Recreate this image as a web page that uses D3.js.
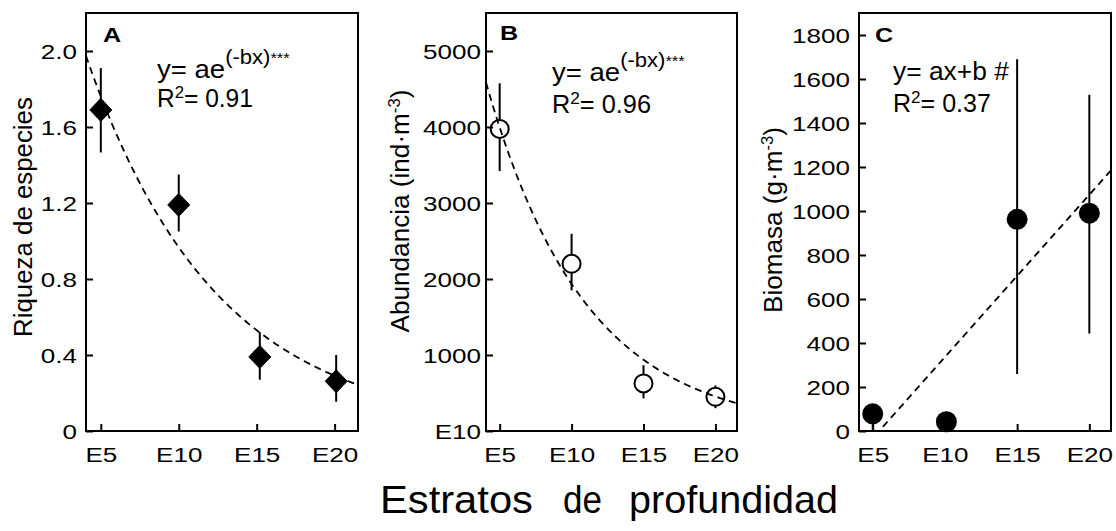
<!DOCTYPE html>
<html><head><meta charset="utf-8">
<script src="https://cdn.jsdelivr.net/npm/d3@7"></script>
<style>
body{margin:0;background:#fff}
svg{display:block}
text{font-family:"Liberation Sans",Arial,sans-serif;fill:#000}
</style>
</head><body>
<svg id="chart" width="1116" height="531"></svg>
<script>
// ---------- DATA ----------
const strata = ["E5", "E10", "E15", "E20"];
const strataDepth = [5, 10, 15, 20];

// Panel A: species richness
const richDepth = [5, 10, 15.2, 20.1];
const richness  = [1.69, 1.19, 0.39, 0.262];
const richLow   = [1.466, 1.05, 0.27, 0.154];
const richHigh  = [1.91, 1.35, 0.52, 0.40];
const richTicks = [0, 0.4, 0.8, 1.2, 1.6, 2.0];
const richTickLabels = ["0", "0.4", "0.8", "1.2", "1.6", "2.0"];
const richFitA = 3.21, richFitB = 0.12;

// Panel B: abundance
const abunDepth = [5, 10, 15, 20];
const abundance = [3975, 2200, 626, 450];
const abunLow   = [3420, 1850, 429, 300];
const abunHigh  = [4575, 2595, 866, 600];
const abunTicks = [0, 1000, 2000, 3000, 4000, 5000];
const abunTickLabels = ["E10", "1000", "2000", "3000", "4000", "5000"];
const abunFitA = 8250, abunFitB = 0.145;

// Panel C: biomass
const bioDepth = [5, 10.1, 15, 20];
const biomass  = [78, 42, 962, 990];
const bioLow   = [5, 42, 259, 443];
const bioHigh  = [78, 42, 1690, 1528];
const bioTicks = [0, 200, 400, 600, 800, 1000, 1200, 1400, 1600, 1800];
const bioTickLabels = ["0", "200", "400", "600", "800", "1000", "1200", "1400", "1600", "1800"];
const bioSlope = 73.8, bioIntercept = -402;

// common axis title
const titleWords = ["Estratos", "de", "profundidad"];

// ---------- DRAW ----------
const svg = d3.select("#chart");
const xDomain = [4.05, 21.5];
const TS = 1.27; // horizontal stretch of text

function stext(parent, x, y, opts, build) {
  const g = parent.append("g");
  const t = g.append("text")
    .attr("text-anchor", opts.anchor || "start")
    .style("font-size", opts.size + "px");
  if (opts.weight) t.style("font-weight", opts.weight);
  build(t);
  let s = opts.sx || 1;
  if (opts.width) { s = opts.width / t.node().getBBox().width; }
  g.attr("transform", `translate(${x},${y}) rotate(${opts.rot || 0}) scale(${s},1)`);
  return g;
}

function panel(cfg) {
  const g = svg.append("g");
  const x = d3.scaleLinear().domain(xDomain).range([cfg.left, cfg.right]);
  const y = d3.scaleLinear().domain(cfg.yDomain).range([cfg.bottom, cfg.top]);
  const clipId = "clip" + cfg.id;
  svg.append("clipPath").attr("id", clipId).append("rect")
    .attr("x", cfg.left).attr("y", cfg.top)
    .attr("width", cfg.right - cfg.left).attr("height", cfg.bottom - cfg.top);

  // error bars
  g.append("g").selectAll("line").data(cfg.depth).join("line")
    .attr("x1", d => x(d)).attr("x2", d => x(d))
    .attr("y1", (d, i) => y(cfg.low[i])).attr("y2", (d, i) => y(cfg.high[i]))
    .attr("stroke", "#000").attr("stroke-width", 2);

  // markers
  const m = g.append("g");
  if (cfg.marker === "diamond") {
    m.selectAll("path").data(cfg.depth).join("path")
      .attr("d", (d, i) => {
        const cx = x(d), cy = y(cfg.values[i]);
        return `M${cx},${cy - 11.5}L${cx + 11},${cy}L${cx},${cy + 11.5}L${cx - 11},${cy}Z`;
      })
      .attr("fill", "#000").attr("stroke", "#000").attr("stroke-width", 1).attr("stroke-linejoin", "round");
  } else if (cfg.marker === "open") {
    m.selectAll("circle").data(cfg.depth).join("circle")
      .attr("cx", d => x(d)).attr("cy", (d, i) => y(cfg.values[i]))
      .attr("r", 9).attr("fill", "#fff").attr("stroke", "#000").attr("stroke-width", 2);
  } else {
    m.selectAll("circle").data(cfg.depth).join("circle")
      .attr("cx", d => x(d)).attr("cy", (d, i) => y(cfg.values[i]))
      .attr("r", 10.5).attr("fill", "#000");
  }

  // fitted curve
  const xs = d3.range(0, 201).map(k => xDomain[0] + (xDomain[1] - xDomain[0]) * k / 200);
  const line = d3.line().x(d => x(d)).y(d => y(cfg.fit(d)));
  g.append("path").datum(xs).attr("d", line)
    .attr("clip-path", `url(#${clipId})`)
    .attr("fill", "none").attr("stroke", "#000")
    .attr("stroke-width", 1.8).attr("stroke-dasharray", "7,5");

  // box
  g.append("rect").attr("x", cfg.left).attr("y", cfg.top)
    .attr("width", cfg.right - cfg.left).attr("height", cfg.bottom - cfg.top)
    .attr("fill", "none").attr("stroke", "#000").attr("stroke-width", 2);

  // y axis
  const ya = g.append("g").attr("transform", `translate(${cfg.left},0)`)
    .call(d3.axisLeft(y).tickValues(cfg.ticks).tickSizeInner(-7).tickSizeOuter(0)
      .tickFormat((d, i) => cfg.tickLabels[i]));
  ya.select(".domain").remove();
  ya.selectAll(".tick line").attr("stroke", "#000").attr("stroke-width", 2);
  ya.selectAll(".tick text")
    .attr("x", null).attr("dy", null).attr("fill", "#000")
    .attr("text-anchor", "end")
    .style("font-size", "20.5px").style("font-family", '"Liberation Sans",Arial,sans-serif')
    .attr("transform", `translate(${-cfg.labelGap},7.4) scale(${TS},1)`);

  // x axis
  const xa = g.append("g").attr("transform", `translate(0,${cfg.bottom})`)
    .call(d3.axisBottom(x).tickValues(strataDepth).tickSizeInner(-7).tickSizeOuter(0)
      .tickFormat((d, i) => strata[i]));
  xa.select(".domain").remove();
  xa.selectAll(".tick line").attr("stroke", "#000").attr("stroke-width", 2);
  xa.selectAll(".tick text")
    .attr("y", null).attr("dy", null).attr("fill", "#000")
    .attr("text-anchor", "middle")
    .style("font-size", "20.5px").style("font-family", '"Liberation Sans",Arial,sans-serif')
    .attr("transform", `translate(0,31) scale(${TS},1)`);

  // panel letter
  stext(g, cfg.letterX, cfg.letterY, { size: 21, weight: "bold", sx: 1.2 }, t => t.text(cfg.letter));

  // equation
  stext(g, cfg.eqX, cfg.eqY, { size: 25, width: cfg.eqW }, cfg.eqBuild);
  stext(g, cfg.eqX, cfg.r2Y, { size: 25, width: cfg.r2W }, t => {
    t.append("tspan").text("R");
    t.append("tspan").attr("dy", -9).style("font-size", "17px").text("2");
    t.append("tspan").attr("dy", 9).text("= " + cfg.r2);
  });

  // y title
  stext(g, cfg.titleX, cfg.titleY, { size: 25, anchor: "middle", rot: -90, width: cfg.titleW }, cfg.titleBuild);
}

function expEq(t) {
  t.append("tspan").text("y= ae");
  t.append("tspan").attr("dy", -14).style("font-size", "20px").text("(-bx)");
  t.append("tspan").attr("dy", -1).style("font-size", "15px").text("***");
}

panel({
  id: "A", left: 86, right: 358, top: 13, bottom: 431,
  yDomain: [0, 2.2], ticks: richTicks, tickLabels: richTickLabels, labelGap: 9,
  depth: richDepth, values: richness, low: richLow, high: richHigh,
  marker: "diamond", fit: d => richFitA * Math.exp(-richFitB * d),
  letter: "A", letterX: 103, letterY: 42,
  eqX: 157, eqY: 78, eqW: 133, eqBuild: expEq, r2Y: 107, r2W: 96, r2: "0.91",
  titleX: 32, titleY: 217, titleW: 240,
  titleBuild: t => t.text("Riqueza de especies")
});

panel({
  id: "B", left: 486, right: 737, top: 13, bottom: 431,
  yDomain: [0, 5500], ticks: abunTicks, tickLabels: abunTickLabels, labelGap: 5,
  depth: abunDepth, values: abundance, low: abunLow, high: abunHigh,
  marker: "open", fit: d => abunFitA * Math.exp(-abunFitB * d),
  letter: "B", letterX: 500, letterY: 40,
  eqX: 552, eqY: 81, eqW: 133, eqBuild: expEq, r2Y: 113, r2W: 99, r2: "0.96",
  titleX: 409, titleY: 211, titleW: 243,
  titleBuild: t => {
    t.append("tspan").text("Abundancia (ind·m");
    t.append("tspan").attr("dy", -9).style("font-size", "16px").text("-3");
    t.append("tspan").attr("dy", 9).text(")");
  }
});

panel({
  id: "C", left: 859, right: 1111, top: 13, bottom: 431,
  yDomain: [0, 1900], ticks: bioTicks, tickLabels: bioTickLabels, labelGap: 9,
  depth: bioDepth, values: biomass, low: bioLow, high: bioHigh,
  marker: "filled", fit: d => bioSlope * d + bioIntercept,
  letter: "C", letterX: 875, letterY: 42,
  eqX: 893, eqY: 80, eqW: 116,
  eqBuild: t => t.text("y= ax+b #"),
  r2Y: 112, r2W: 98, r2: "0.37",
  titleX: 782, titleY: 220, titleW: 186,
  titleBuild: t => {
    t.append("tspan").text("Biomasa (g·m");
    t.append("tspan").attr("dy", -9).style("font-size", "16px").text("-3");
    t.append("tspan").attr("dy", 9).text(")");
  }
});

// common x title, word by word
const titleWordX = [380, 563, 629];
const titleWordW = [153, 39, 209];
titleWords.forEach((w, i) => {
  stext(svg, titleWordX[i], 513, { size: 38, width: titleWordW[i] }, t => t.text(w));
});
</script>
</body></html>
